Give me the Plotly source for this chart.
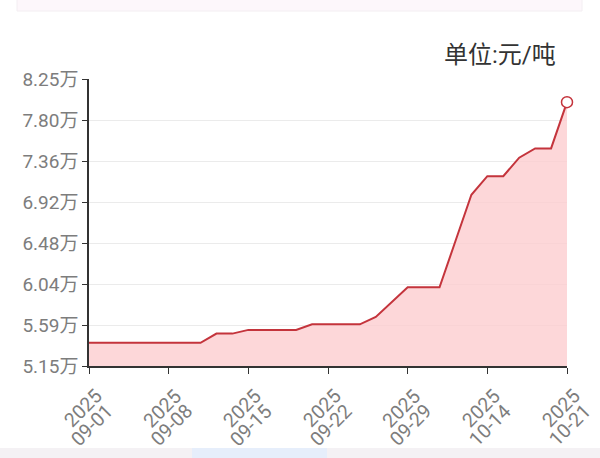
import plotly.graph_objects as go

dates = ["2025-09-01", "2025-09-02", "2025-09-03", "2025-09-04", "2025-09-05",
         "2025-09-08", "2025-09-09", "2025-09-10", "2025-09-11", "2025-09-12",
         "2025-09-15", "2025-09-16", "2025-09-17", "2025-09-18", "2025-09-19",
         "2025-09-22", "2025-09-23", "2025-09-24", "2025-09-25", "2025-09-26",
         "2025-09-29", "2025-09-30", "2025-10-09", "2025-10-10", "2025-10-13",
         "2025-10-14", "2025-10-15", "2025-10-16", "2025-10-17", "2025-10-20",
         "2025-10-21"]
prices = [54000, 54000, 54000, 54000, 54000,
          54000, 54000, 54000, 55000, 55000,
          55400, 55400, 55400, 55400, 56000,
          56000, 56000, 56000, 56800, 58400,
          60000, 60000, 60000, 65000, 70000,
          72000, 72000, 74000, 75000, 75000,
          80000]

tick_dates = ["2025-09-01", "2025-09-08", "2025-09-15", "2025-09-22",
              "2025-09-29", "2025-10-14", "2025-10-21"]
tick_years = [d[:4] for d in tick_dates]
tick_monthdays = [d[5:] for d in tick_dates]

y_min, y_max = 51500, 82500
y_tick_vals = [y_min + k * (y_max - y_min) / 7 for k in range(8)]
y_tick_text = ["5.15万", "5.59万", "6.04万", "6.48万", "6.92万", "7.36万", "7.80万", "8.25万"]
unit_label = "单位:元/吨"

line_color = "#c4343c"
fill_color = "rgba(253, 205, 207, 0.8)"
label_color = "#7d7d7d"
FONT = "Roboto, Noto Sans CJK SC, sans-serif"

fig = go.Figure()
fig.add_trace(go.Scatter(
    x=dates, y=prices, mode="lines",
    line=dict(color=line_color, width=2),
    fill="tozeroy", fillcolor=fill_color,
    hoverinfo="skip", showlegend=False,
))
fig.add_trace(go.Scatter(
    x=[dates[-1]], y=[prices[-1]], mode="markers",
    marker=dict(size=11, color="white", line=dict(color=line_color, width=1.5)),
    cliponaxis=False, showlegend=False, hoverinfo="skip",
))

W, H = 600, 458
L, R, T, B = 89, 33, 79, 92
pw, ph = W - L - R, H - T - B


def px(xp):
    return (xp - L) / pw


def py(yp):
    return (H - B - yp) / ph


shapes = [
    dict(type="rect", xref="paper", yref="paper", x0=px(17), x1=px(582), y0=py(11), y1=py(-5),
         fillcolor="#fdf7fb", line=dict(color="#f3eef2", width=1), layer="below"),
    dict(type="rect", xref="paper", yref="paper", x0=px(-5), x1=px(605), y0=py(470), y1=py(448),
         fillcolor="#f4f1f4", line=dict(width=0), layer="below"),
    dict(type="rect", xref="paper", yref="paper", x0=px(192), x1=px(327), y0=py(470), y1=py(448),
         fillcolor="#e6eefb", line=dict(width=0), layer="below"),
]

annotations = [dict(text=unit_label, xref="paper", yref="paper",
                    x=px(558), y=py(55), xanchor="right", yanchor="middle",
                    showarrow=False, font=dict(family=FONT, size=24, color="#333333"))]
for d, yr, md in zip(tick_dates, tick_years, tick_monthdays):
    annotations.append(dict(text=yr, x=d, xref="x", yref="paper", y=py(408),
                            xshift=-6.5, xanchor="center", yanchor="middle",
                            textangle=-45, showarrow=False,
                            font=dict(family=FONT, size=19.5, color=label_color)))
    annotations.append(dict(text=md, x=d, xref="x", yref="paper", y=py(425),
                            xshift=2.5, xanchor="center", yanchor="middle",
                            textangle=-45, showarrow=False,
                            font=dict(family=FONT, size=19.5, color=label_color)))

fig.update_layout(
    width=W, height=H,
    margin=dict(l=L, r=R, t=T, b=B),
    paper_bgcolor="white", plot_bgcolor="white",
    font=dict(family=FONT, color=label_color, size=19),
    shapes=shapes,
    annotations=annotations,
    xaxis=dict(
        type="category", categoryorder="array", categoryarray=dates,
        range=[0, len(dates) - 1],
        tickmode="array", tickvals=tick_dates, ticktext=["" for _ in tick_dates],
        showticklabels=True,
        ticks="outside", ticklen=6, tickcolor="#333333",
        showline=True, linecolor="#333333", linewidth=1.5,
        showgrid=False, zeroline=False, automargin=False,
    ),
    yaxis=dict(
        range=[y_min, y_max],
        tickmode="array", tickvals=y_tick_vals, ticktext=y_tick_text,
        ticks="outside", ticklen=5, tickcolor="#333333",
        showline=True, linecolor="#333333", linewidth=1.5,
        showgrid=True, gridcolor="#ebebeb", gridwidth=1,
        zeroline=False, automargin=False,
        tickfont=dict(family=FONT, size=19, color=label_color),
    ),
)

fig.write_html("out.html", config={"displayModeBar": False},
               post_script="document.body.style.margin='0';document.body.style.overflow='hidden';")
